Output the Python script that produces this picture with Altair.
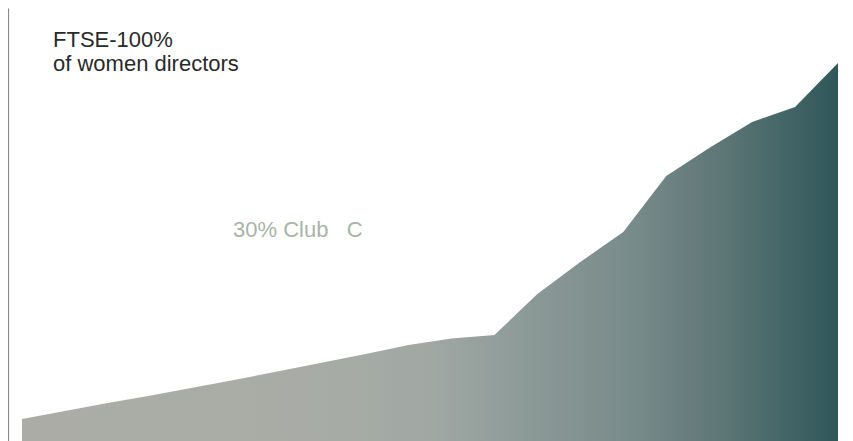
import altair as alt
import pandas as pd

# Data (index years; values in chart units)
years = list(range(2000, 2020))
women_share = [2.2, 3.0, 3.8, 4.55, 5.35, 6.15, 7.0, 7.85, 8.7, 9.6,
               10.25, 10.6, 14.7, 17.9, 20.9, 26.5, 29.3, 31.9, 33.4, 37.8]
title_lines = ["FTSE-100%", "of women directors"]
club_label = "30% Club\u00a0\u00a0\u00a0C"

df = pd.DataFrame({"year": years, "share": women_share})

gradient = alt.Gradient(
    gradient="linear",
    x1=0, y1=0, x2=1, y2=0,
    stops=[
        alt.GradientStop(color="#abaca6", offset=0),
        alt.GradientStop(color="#a9aca6", offset=0.35),
        alt.GradientStop(color="#a0a8a4", offset=0.5),
        alt.GradientStop(color="#8c9a97", offset=0.62),
        alt.GradientStop(color="#788a8a", offset=0.75),
        alt.GradientStop(color="#5d7676", offset=0.86),
        alt.GradientStop(color="#2f575a", offset=1),
    ],
)

area = alt.Chart(df).mark_area(color=gradient, interpolate="linear").encode(
    x=alt.X("year:Q", scale=alt.Scale(domain=[1999.674, 2019.349], nice=False, zero=False), axis=None),
    y=alt.Y("share:Q", scale=alt.Scale(domain=[0, 43.3], nice=False),
            axis=alt.Axis(labels=False, ticks=False, grid=False, title=None,
                          domainColor="#8a8a8a", domainWidth=1.2)),
)

title_txt = alt.Chart(pd.DataFrame({"t": [title_lines]})).mark_text(
    align="left", baseline="alphabetic", font="Liberation Sans", fontSize=22,
    color="#2a2a2a", lineHeight=24,
).encode(x=alt.value(45), y=alt.value(39), text="t:N")

club_txt = alt.Chart(pd.DataFrame({"t": [club_label]})).mark_text(
    align="left", baseline="alphabetic", font="Liberation Sans", fontSize=22,
    color="#a8b4a8",
).encode(x=alt.value(225), y=alt.value(229), text="t:N")

chart = alt.layer(area, title_txt, club_txt).properties(
    width=845, height=433, autosize="none",
    padding={"left": 0, "top": 0, "right": -8, "bottom": 0},
).configure_view(stroke=None)

chart.save("out.html", embed_options={"renderer": "svg", "actions": False})
